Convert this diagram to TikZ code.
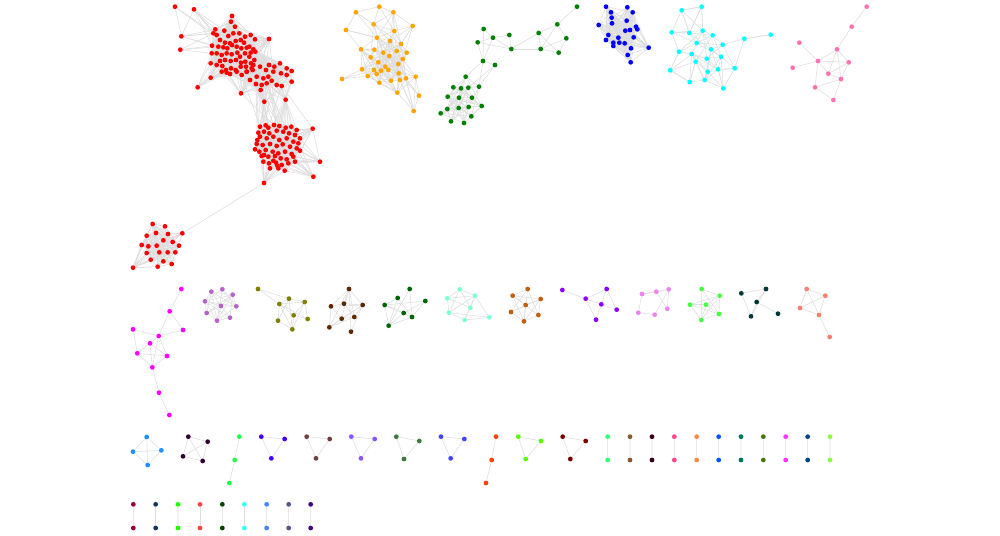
\documentclass[tikz,border=0pt]{standalone}
\pgfdeclarelayer{bg}
\pgfsetlayers{bg,main}
\definecolor{cR}{HTML}{FF0000}
\definecolor{cOr}{HTML}{FFA500}
\definecolor{cGr}{HTML}{008000}
\definecolor{cBl}{HTML}{0000FF}
\definecolor{cCy}{HTML}{00FFFF}
\definecolor{cPk}{HTML}{FF74B0}
\definecolor{cMg}{HTML}{FF00FF}
\definecolor{cOc}{HTML}{B664C8}
\definecolor{cOl}{HTML}{808000}
\definecolor{cDb}{HTML}{5C2A00}
\definecolor{cDg}{HTML}{006400}
\definecolor{cAq}{HTML}{7FFFD4}
\definecolor{cOb}{HTML}{C06010}
\definecolor{cVi}{HTML}{8B00FF}
\definecolor{cLv}{HTML}{EE82EE}
\definecolor{cLm}{HTML}{44FF44}
\definecolor{cDs}{HTML}{003838}
\definecolor{cSa}{HTML}{FA8072}
\definecolor{cDd}{HTML}{1E90FF}
\definecolor{cDp}{HTML}{330033}
\definecolor{cSg}{HTML}{22FF44}
\definecolor{cTa}{HTML}{4400FF}
\definecolor{cTb}{HTML}{704040}
\definecolor{cTc}{HTML}{8855FF}
\definecolor{cTd}{HTML}{3A7A3A}
\definecolor{cTe}{HTML}{4444FF}
\definecolor{cOR}{HTML}{FF4500}
\definecolor{cTf}{HTML}{55FF00}
\definecolor{cTg}{HTML}{7A0000}
\tikzset{
  vtx/.style={circle,inner sep=0pt,minimum size=4.8pt,draw=none},
  edge/.style={draw=gray!26,line width=0.55pt}
}
\newcommand\clus[5]{%
  \foreach \x/\y [count=\i] in {#5} {%
    \node[vtx,fill=#2] (#1\i) at (\x,\y) {};%
    \expandafter\xdef\csname cx#1\i\endcsname{\x}%
    \expandafter\xdef\csname cy#1\i\endcsname{\y}%
    \expandafter\xdef\csname n#1\endcsname{\i}%
  }%
  \edef\ccn{\csname n#1\endcsname}%
  \begin{pgfonlayer}{bg}%
  \foreach \i in {1,...,\ccn} {%
    \edef\xa{\csname cx#1\i\endcsname}\edef\ya{\csname cy#1\i\endcsname}%
    \foreach \j in {\i,...,\ccn} {%
      \ifnum\j>\i\relax
        \edef\xb{\csname cx#1\j\endcsname}\edef\yb{\csname cy#1\j\endcsname}%
        \pgfmathtruncatemacro\eok{and(veclen((\xa-\xb)/10,(\ya-\yb)/10)<#3/10,rnd<#4)}%
        \ifnum\eok=1 \draw[edge] (#1\i) -- (#1\j);\fi
      \fi
    }%
  }%
  \end{pgfonlayer}%
}
\newcommand\crossc[4]{%
  \edef\cna{\csname n#1\endcsname}\edef\cnb{\csname n#2\endcsname}%
  \begin{pgfonlayer}{bg}%
  \foreach \i in {1,...,\cna} {%
    \edef\xa{\csname cx#1\i\endcsname}\edef\ya{\csname cy#1\i\endcsname}%
    \foreach \j in {1,...,\cnb} {%
      \edef\xb{\csname cx#2\j\endcsname}\edef\yb{\csname cy#2\j\endcsname}%
      \pgfmathtruncatemacro\eok{and(veclen((\xa-\xb)/10,(\ya-\yb)/10)<#3/10,rnd<#4)}%
      \ifnum\eok=1 \draw[edge] (#1\i) -- (#2\j);\fi
    }%
  }%
  \end{pgfonlayer}%
}
\newcommand\edg[2]{%
  \begin{pgfonlayer}{bg}%
  \foreach \a/\b in {#2} {\draw[edge] (#1\a) -- (#1\b);}%
  \end{pgfonlayer}%
}
\begin{document}
\begin{tikzpicture}[x=1pt,y=-1pt]
\pgfmathsetseed{12}
\begin{pgfonlayer}{bg}
\fill[white] (0,0) rectangle (1000,535);
\end{pgfonlayer}
\useasboundingbox (0,0) rectangle (1000,535);

% ---------- red clusters ----------
\begin{scope}[shift={(120,0)},scale=0.33333]
\clus{rA}{cR}{115}{0.6}{286/88,280/100,290/105,313/92,325/108,340/100,358/100,375/110,392/105,405/118,
300/120,315/128,330/130,347/123,362/120,372/128,388/140,400/148,406/155,276/137,
295/140,310/142,322/145,336/135,350/140,364/145,380/143,392/158,275/160,290/160,
305/165,320/160,335/163,352/158,360/170,375/160,388/170,403/180,300/183,315/180,
332/183,348/180,363/188,376/185,393/190,272/190,290/195,307/198,318/210,333/205,
347/210,362/200,378/200,395/205,305/215,320/218,330/222,350/215,380/215,398/210,
165/20,222/28,184/109,181/149,233/262,272/233,336/48,447/117,333/65,345/80}
\clus{rB}{cR}{115}{0.6}{400/195,420/200,447/195,463/200,480/190,500/205,515/213,438/210,460/215,483/220,
500/225,515/245,390/240,408/252,425/255,440/250,455/242,470/255,485/258,410/230,
430/235,445/230,365/225,380/215,422/270,363/280,433/305,497/299}
\clus{rC}{cR}{115}{0.6}{420/380,437/376,445/383,462/375,478/378,497/383,514/380,530/390,415/398,432/395,
448/400,470/392,490/395,507/400,525/405,540/415,420/410,440/415,460/410,478/420,
500/415,520/425,535/430,410/432,428/435,450/432,470/438,488/433,510/440,530/445,
405/448,418/455,437/450,458/455,475/460,495/455,515/462,540/452,425/468,445/470,
465/468,482/475,500/478,520/470,430/485,447/490,468/488,485/495,505/490,525/485,
450/505,475/505,494/512,472/497,412/420,432/465,460/482,
578/386,600/485,580/530,432/549}
\crossc{rA}{rB}{120}{0.4}
\crossc{rB}{rC}{170}{0.12}
\edg{rA}{61/3,61/11,62/2,62/20,63/2,63/21,64/20,64/21,64/29,65/46,66/55,66/47,67/69,67/2,67/9,69/70,69/1,70/7,70/4,68/10,68/19,68/38,68/9}
\edg{rB}{26/13,26/23,27/25,27/15,28/19,28/12}
\edg{rC}{58/8,58/16,58/23,59/50,59/44,59/38,60/50,60/49,60/53,61/51,61/46,61/45}
\begin{pgfonlayer}{bg}
\foreach \k in {1,2,3,9,10} {\draw[edge] (rB27) -- (rC\k);}
\foreach \k in {4,5,6,7,12,13} {\draw[edge] (rB28) -- (rC\k);}
\end{pgfonlayer}
\end{scope}
\begin{scope}[shift={(120,180)},scale=0.33333]
\clus{rD}{cR}{200}{0.6}{98/132,135/139,80/167,108/159,144/162,187/160,130/181,65/195,85/199,110/197,
158/186,177/197,80/219,118/217,143/217,166/217,92/239,130/244,155/252,113/260,39/263}
\edg{rD}{21/17,21/13,21/20,21/8}
\end{scope}
\begin{pgfonlayer}{bg}\draw[edge] (rC61) -- (rD6);\end{pgfonlayer}

% ---------- orange / green ----------
\begin{scope}[shift={(330,0)},scale=0.33333]
\clus{or}{cOr}{105}{0.55}{148/20,78/37,190/37,131/73,248/78,48/90,193/93,141/113,180/123,213/132,
93/148,133/149,160/158,200/153,230/158,122/172,178/168,218/177,145/187,205/192,
96/208,132/210,153/212,175/210,166/200,206/220,113/228,140/222,36/237,148/248,
183/242,210/240,228/235,257/230,202/278,267/287,251/333}
\edg{or}{1/4,1/3,1/7,2/4,3/7,3/4,4/8,5/14,6/8,29/27,35/30,35/31,36/33,36/26,37/33,37/32,37/35,36/34}
\clus{gt}{cGr}{0}{0}{461/87,538/105,489/113,443/127,544/147,459/183,495/195,626/99,682/73,741/20,
709/115,632/147,686/158}
\edg{gt}{1/3,1/6,2/3,2/5,4/3,4/5,3/5,4/6,3/6,5/12,5/8,8/9,9/10,9/11,9/12,8/13,8/12,11/13,12/13,11/12,6/7}
\clus{gc}{cGr}{115}{0.6}{407/230,447/260,370/262,393/265,415/263,353/290,387/293,426/293,352/327,386/324,
416/321,455/318,332/340,424/349,363/364,402/369}
\begin{pgfonlayer}{bg}
\draw[edge] (gt6) -- (gc1); \draw[edge] (gt6) -- (gc2); \draw[edge] (gt7) -- (gc2); \draw[edge] (gt7) -- (gc5);
\end{pgfonlayer}
\end{scope}

% ---------- blue / cyan / pink ----------
\begin{scope}[shift={(580,0)},scale=0.33333]
\clus{bl}{cBl}{200}{0.8}{78/20,142/22,93/37,158/37,95/53,140/62,56/75,96/70,168/80,172/88,
136/92,150/90,85/105,115/113,161/112,78/120,100/128,118/128,134/130,100/138,
153/145,206/143,143/165,152/187}
\clus{cy}{cCy}{95}{0.6}{305/31,365/20,275/97,328/99,368/92,398/106,350/129,428/134,493/116,572/104,
393/148,297/155,335/162,380/176,423/170,347/185,271/211,383/215,414/208,464/205,
329/246,374/240,430/265}
\edg{cy}{8/9,9/10,1/2,1/4,2/4,2/5,3/4,3/12,17/12,17/16,17/21,21/22,21/16,22/18,23/19,23/15,20/19,20/15}
\clus{pk}{cPk}{0}{0}{860/20,815/80,658/128,771/148,714/183,806/187,638/203,745/221,783/237,705/262,760/300}
\edg{pk}{1/2,2/4,3/5,7/5,5/4,4/6,5/6,5/8,4/8,4/9,8/6,8/9,6/9,5/10,10/9,10/11,9/11}
\end{scope}

% ---------- middle row ----------
\begin{scope}[shift={(120,280)},scale=0.33333]
\clus{mg}{cMg}{0}{0}{184/27,149/94,189/150,39/148,116/168,90/190,52/220,141/228,97/262,117/338,148/405}
\edg{mg}{1/2,2/5,2/3,5/3,4/5,4/7,5/6,5/8,5/9,6/7,6/8,6/9,7/8,7/9,8/9,9/10,10/11}
\clus{oc}{cOc}{300}{0.85}{274/35,307/28,338/44,255/64,303/78,349/79,260/99,330/113,291/122}
\clus{ol}{cOl}{100}{0.75}{414/27,478/72,507/56,554/66,521/106,474/122,563/117,517/148}
\edg{ol}{1/2}
\clus{db}{cDb}{130}{0.65}{687/27,633/79,672/71,728/75,665/116,703/111,628/142,693/155}
\clus{dg}{cDg}{130}{0.6}{869/27,833/54,916/63,794/75,851/99,876/111,806/137}
\clus{aq}{cAq}{130}{0.65}{1019/28,982/55,1065/47,1051/83,987/98,1034/120,1108/112}
\end{scope}
\begin{scope}[shift={(490,280)},scale=0.33333]
\clus{ob}{cOb}{200}{0.8}{113/27,68/47,152/57,107/75,63/96,145/105,102/124}
\clus{vi}{cVi}{0}{0}{217/30,287/56,350/27,334/73,380/89,318/119}
\edg{vi}{1/2,2/3,2/4,3/4,3/5,4/5,2/6,4/6}
\clus{lv}{cLv}{200}{0.75}{456/42,499/35,536/28,445/98,494/104,532/86}
\clus{lm}{cLm}{200}{0.75}{635/27,689/47,600/74,648/74,687/102,634/120}
\clus{ds}{cDs}{0}{0}{754/40,828/27,800/66,783/109,864/101}
\edg{ds}{1/2,1/4,2/3,2/4,3/4,3/5}
\clus{sa}{cSa}{0}{0}{950/27,1006/47,930/84,987/105,1019/171}
\edg{sa}{1/2,1/3,1/4,2/3,2/4,3/4,4/5}
\end{scope}

% ---------- small components ----------
\begin{scope}[shift={(120,425)},scale=0.33333]
\clus{dd}{cDd}{500}{1}{80/36,39/80,124/76,83/120}
\clus{dp}{cDp}{500}{1}{205/35,263/50,189/94,248/108}
\clus{sg}{cSg}{0}{0}{358/35,344/105,328/174}
\edg{sg}{1/2,2/3}
\clus{ta}{cTa}{500}{1}{424/35,494/42,454/100}
\clus{tb}{cTb}{500}{1}{560/35,629/42,588/100}
\clus{tc}{cTc}{500}{1}{694/35,764/42,723/100}
\clus{td}{cTd}{500}{1}{829/35,898/48,852/102}
\clus{te}{cTe}{500}{1}{963/35,1033/42,992/100}
\end{scope}
\begin{scope}[shift={(480,425)},scale=0.33333]
\clus{oR}{cOR}{0}{0}{48/35,35/105,18/174}
\edg{oR}{1/2,2/3}
\clus{tf}{cTf}{500}{1}{115/35,183/48,137/102}
\clus{tg}{cTg}{500}{1}{248/35,317/48,271/102}
\foreach \x/\c [count=\k] in {383/33FF77,450/8B5A2B,516/3A0011,583/FF4488,650/FF8844,716/0055FF,783/007755,850/447711,917/FF33FF,983/004488,1050/88FF44} {
  \definecolor{tmpc}{HTML}{\c}
  \node[vtx,fill=tmpc] (pa\k) at (\x,35) {};
  \node[vtx,fill=tmpc] (pb\k) at (\x,105) {};
  \draw[edge] (pa\k) -- (pb\k);
}
\end{scope}
\begin{scope}[shift={(120,495)},scale=0.33333]
\foreach \x/\c [count=\k] in {40/990044,107/113366,174/22FF00,240/FF4444,307/004400,373/33FFFF,440/4488FF,506/555588,572/440088} {
  \definecolor{tmpc}{HTML}{\c}
  \node[vtx,fill=tmpc] (qa\k) at (\x,28) {};
  \node[vtx,fill=tmpc] (qb\k) at (\x,99) {};
  \draw[edge] (qa\k) -- (qb\k);
}
\end{scope}
\end{tikzpicture}
\end{document}
